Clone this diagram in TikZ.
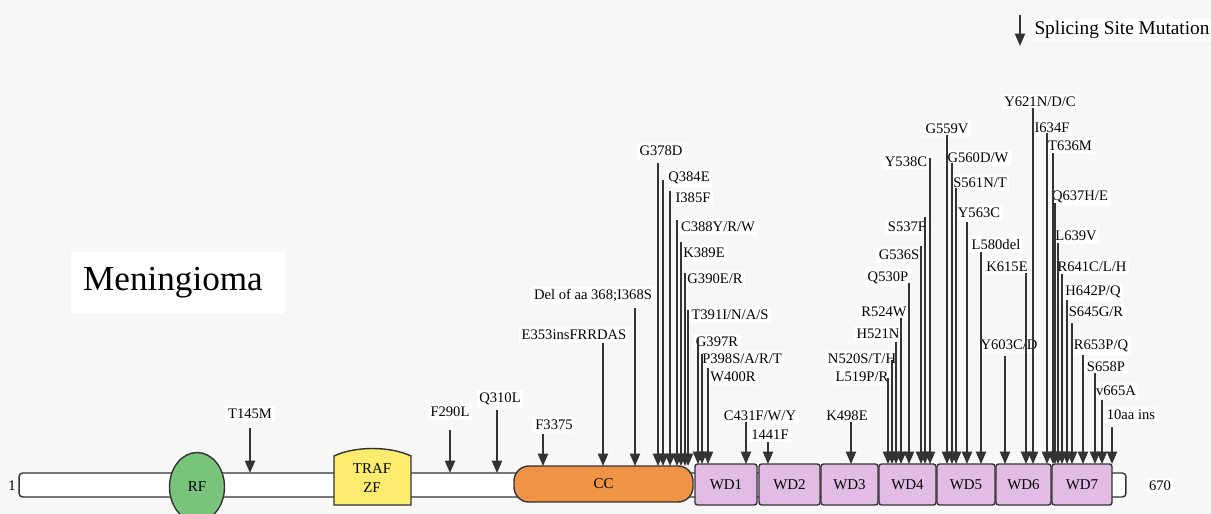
\documentclass[tikz,border=0pt]{standalone}
\usepackage{fontspec}
\setmainfont{Liberation Serif}
\usepackage{xcolor}
\usepackage{tikz}
\usetikzlibrary{arrows.meta}
\usetikzlibrary{shapes.geometric}
\definecolor{bggray}{HTML}{F7F7F7}
\definecolor{edgegray}{HTML}{333333}
\definecolor{rfgreen}{HTML}{77C47A}
\definecolor{trafyellow}{HTML}{FBEC6F}
\definecolor{ccorange}{HTML}{EE9444}
\definecolor{wdpink}{HTML}{E2BCE5}

\begin{document}
\begin{tikzpicture}[x=0.02cm,y=-0.02cm,
    lab/.style={fill=white, inner sep=1.5pt, font=\fontsize{8.3}{9}\selectfont},
    mut/.style={-{Triangle[length=7pt,width=5.8pt]}, line width=0.8pt, color=edgegray},
    txt/.style={inner sep=0pt, font=\fontsize{8.5}{11}\selectfont},
    dom/.style={txt, draw=edgegray, line width=0.8pt},
    wd/.style={dom, fill=wdpink, rounded corners=1.5pt, minimum height=0.82cm}]
    \useasboundingbox (0,0) rectangle (1211,514);
    \fill[bggray] (0,0) rectangle (1211,514);

    % backbone and domains
    \node[dom, fill=white, rounded corners=2pt, minimum width=22.14cm, minimum height=0.48cm] (bar) at (572.5,485) {};
    \node[lab, fill=none] (one) at (12,486) {1};
    \node[lab] (end) at (1160,486) {670};
    \node[dom, ellipse, fill=rfgreen, minimum width=1.1cm, minimum height=1.38cm] (RF) at (197,487) {RF};
    \draw[dom, fill=trafyellow] (334,505) -- (334,456) .. controls (355,446) and (390,446) .. (411,456) -- (411,505) -- cycle;
    \node[txt, align=center] (TRAF) at (372,478) {TRAF\\ZF};
    \node[dom, fill=ccorange, rounded corners=0.3cm, minimum width=3.58cm, minimum height=0.72cm] (CC) at (603.5,484) {CC};
    \node[wd, minimum width=1.24cm] (WD1) at (726,484.5) {WD1};
    \node[wd, minimum width=1.22cm] (WD2) at (789.5,484.5) {WD2};
    \node[wd, minimum width=1.14cm] (WD3) at (849.5,484.5) {WD3};
    \node[wd, minimum width=1.14cm] (WD4) at (907.5,484.5) {WD4};
    \node[wd, minimum width=1.16cm] (WD5) at (966,484.5) {WD5};
    \node[wd, minimum width=1.10cm] (WD6) at (1023.5,484.5) {WD6};
    \node[wd, minimum width=1.20cm] (WD7) at (1082,484.5) {WD7};

    % title and legend
    \node[fill=white, minimum width=4.28cm, minimum height=1.24cm] (title) at (178,283) {};
    \node[font=\fontsize{20}{24}\selectfont] (titletext) at (173,283) {Meningioma};
    \node[lab, font=\fontsize{11}{13}\selectfont] (legend) at (1122,30) {Splicing Site Mutation};
    \coordinate (T0) at (1020,15); \coordinate (E0) at (1020,46);
    \path [mut] (T0) edge (E0);

    % mutation labels
    \node[lab] (L1) at (250,414) {T145M};
    \node[lab] (L2) at (450,412) {F290L};
    \node[lab] (L3) at (500,399) {Q310L};
    \node[lab] (L4) at (554,425) {F3375};
    \node[lab] (L5) at (574,335) {E353insFRRDAS};
    \node[lab] (L6) at (593,295) {Del of aa 368;I368S};
    \node[lab] (L7) at (661,151) {G378D};
    \node[lab] (L8) at (689,178) {Q384E};
    \node[lab] (L9) at (693,198) {I385F};
    \node[lab] (L10) at (718,227) {C388Y/R/W};
    \node[lab] (L11) at (704,253) {K389E};
    \node[lab] (L12) at (715,279) {G390E/R};
    \node[lab] (L13) at (730,315) {T391I/N/A/S};
    \node[lab] (L14) at (717,342) {G397R};
    \node[lab] (L15) at (742,359) {P398S/A/R/T};
    \node[lab] (L16) at (733,377) {W400R};
    \node[lab] (L17) at (760,416) {C431F/W/Y};
    \node[lab] (L18) at (770,435) {1441F};
    \node[lab] (L19) at (847,416) {K498E};
    \node[lab] (L20) at (862,377) {L519P/R};
    \node[lab] (L21) at (862,359) {N520S/T/H};
    \node[lab] (L22) at (878,334) {H521N};
    \node[lab] (L23) at (884,312) {R524W};
    \node[lab] (L24) at (888,278) {Q530P};
    \node[lab] (L25) at (899,255) {G536S};
    \node[lab] (L26) at (907,227) {S537F};
    \node[lab] (L27) at (906,162) {Y538C};
    \node[lab] (L28) at (947,129) {G559V};
    \node[lab] (L29) at (978,158) {G560D/W};
    \node[lab] (L30) at (980,183) {S561N/T};
    \node[lab] (L31) at (979,213) {Y563C};
    \node[lab] (L32) at (996,245) {L580del};
    \node[lab] (L33) at (1009,345) {Y603C/D};
    \node[lab] (L34) at (1007,267) {K615E};
    \node[lab] (L35) at (1040,102) {Y621N/D/C};
    \node[lab] (L36) at (1052,128) {I634F};
    \node[lab] (L37) at (1070,146) {T636M};
    \node[lab] (L38) at (1080,197) {Q637H/E};
    \node[lab] (L39) at (1076,236) {L639V};
    \node[lab] (L40) at (1092,267) {R641C/L/H};
    \node[lab] (L41) at (1093,292) {H642P/Q};
    \node[lab] (L42) at (1096,312) {S645G/R};
    \node[lab] (L43) at (1101,346) {R653P/Q};
    \node[lab] (L44) at (1106,367) {S658P};
    \node[lab] (L45) at (1116,391) {v665A};
    \node[lab] (L46) at (1131,415) {10aa ins};

    % arrow ends
    \coordinate (T1) at (250,428); \coordinate (E1) at (250,473);
    \coordinate (T2) at (450,430); \coordinate (E2) at (450,473);
    \coordinate (T3) at (497,410); \coordinate (E3) at (497,473);
    \coordinate (T4) at (543,434); \coordinate (E4) at (543,466);
    \coordinate (T5) at (603,343); \coordinate (E5) at (603,466);
    \coordinate (T6) at (635,308); \coordinate (E6) at (635,466);
    \coordinate (T7) at (658,163); \coordinate (E7) at (658,466);
    \coordinate (T8) at (663,180); \coordinate (E8) at (663,466);
    \coordinate (T9) at (670,191); \coordinate (E9) at (670,466);
    \coordinate (T10) at (677,220); \coordinate (E10) at (677,466);
    \coordinate (T11) at (681,242); \coordinate (E11) at (681,466);
    \coordinate (T12) at (685,273); \coordinate (E12) at (685,466);
    \coordinate (T13) at (688,310); \coordinate (E13) at (688,466);
    \coordinate (T14) at (698,338); \coordinate (E14) at (698,464);
    \coordinate (T15) at (702,354); \coordinate (E15) at (702,464);
    \coordinate (T16) at (708,368); \coordinate (E16) at (708,464);
    \coordinate (T17) at (746,422); \coordinate (E17) at (746,464);
    \coordinate (T18) at (768,442); \coordinate (E18) at (768,464);
    \coordinate (T19) at (851,422); \coordinate (E19) at (851,464);
    \coordinate (T20) at (888,378); \coordinate (E20) at (888,464);
    \coordinate (T21) at (892,360); \coordinate (E21) at (892,464);
    \coordinate (T22) at (896,342); \coordinate (E22) at (896,464);
    \coordinate (T23) at (901,318); \coordinate (E23) at (901,464);
    \coordinate (T24) at (909,283); \coordinate (E24) at (909,464);
    \coordinate (T25) at (921,246); \coordinate (E25) at (921,464);
    \coordinate (T26) at (925,217); \coordinate (E26) at (925,464);
    \coordinate (T27) at (930,158); \coordinate (E27) at (930,464);
    \coordinate (T28) at (947,135); \coordinate (E28) at (947,464);
    \coordinate (T29) at (952,163); \coordinate (E29) at (952,464);
    \coordinate (T30) at (956,188); \coordinate (E30) at (956,464);
    \coordinate (T31) at (967,222); \coordinate (E31) at (967,464);
    \coordinate (T32) at (981,252); \coordinate (E32) at (981,464);
    \coordinate (T33) at (1005,356); \coordinate (E33) at (1005,464);
    \coordinate (T34) at (1026,273); \coordinate (E34) at (1026,464);
    \coordinate (T35) at (1033,108); \coordinate (E35) at (1033,464);
    \coordinate (T36) at (1047,133); \coordinate (E36) at (1047,464);
    \coordinate (T37) at (1053,153); \coordinate (E37) at (1053,464);
    \coordinate (T38) at (1055,203); \coordinate (E38) at (1055,464);
    \coordinate (T39) at (1058,243); \coordinate (E39) at (1058,464);
    \coordinate (T40) at (1062,274); \coordinate (E40) at (1062,464);
    \coordinate (T41) at (1067,300); \coordinate (E41) at (1067,464);
    \coordinate (T42) at (1072,323); \coordinate (E42) at (1072,464);
    \coordinate (T43) at (1083,355); \coordinate (E43) at (1083,464);
    \coordinate (T44) at (1095,373); \coordinate (E44) at (1095,464);
    \coordinate (T45) at (1102,400); \coordinate (E45) at (1102,464);
    \coordinate (T46) at (1112,427); \coordinate (E46) at (1112,464);

    % arrows
    \path [mut] (T1) edge (E1);
    \path [mut] (T2) edge (E2);
    \path [mut] (T3) edge (E3);
    \path [mut] (T4) edge (E4);
    \path [mut] (T5) edge (E5);
    \path [mut] (T6) edge (E6);
    \path [mut] (T7) edge (E7);
    \path [mut] (T8) edge (E8);
    \path [mut] (T9) edge (E9);
    \path [mut] (T10) edge (E10);
    \path [mut] (T11) edge (E11);
    \path [mut] (T12) edge (E12);
    \path [mut] (T13) edge (E13);
    \path [mut] (T14) edge (E14);
    \path [mut] (T15) edge (E15);
    \path [mut] (T16) edge (E16);
    \path [mut] (T17) edge (E17);
    \path [mut] (T18) edge (E18);
    \path [mut] (T19) edge (E19);
    \path [mut] (T20) edge (E20);
    \path [mut] (T21) edge (E21);
    \path [mut] (T22) edge (E22);
    \path [mut] (T23) edge (E23);
    \path [mut] (T24) edge (E24);
    \path [mut] (T25) edge (E25);
    \path [mut] (T26) edge (E26);
    \path [mut] (T27) edge (E27);
    \path [mut] (T28) edge (E28);
    \path [mut] (T29) edge (E29);
    \path [mut] (T30) edge (E30);
    \path [mut] (T31) edge (E31);
    \path [mut] (T32) edge (E32);
    \path [mut] (T33) edge (E33);
    \path [mut] (T34) edge (E34);
    \path [mut] (T35) edge (E35);
    \path [mut] (T36) edge (E36);
    \path [mut] (T37) edge (E37);
    \path [mut] (T38) edge (E38);
    \path [mut] (T39) edge (E39);
    \path [mut] (T40) edge (E40);
    \path [mut] (T41) edge (E41);
    \path [mut] (T42) edge (E42);
    \path [mut] (T43) edge (E43);
    \path [mut] (T44) edge (E44);
    \path [mut] (T45) edge (E45);
    \path [mut] (T46) edge (E46);
  \end{tikzpicture}
\end{document}
